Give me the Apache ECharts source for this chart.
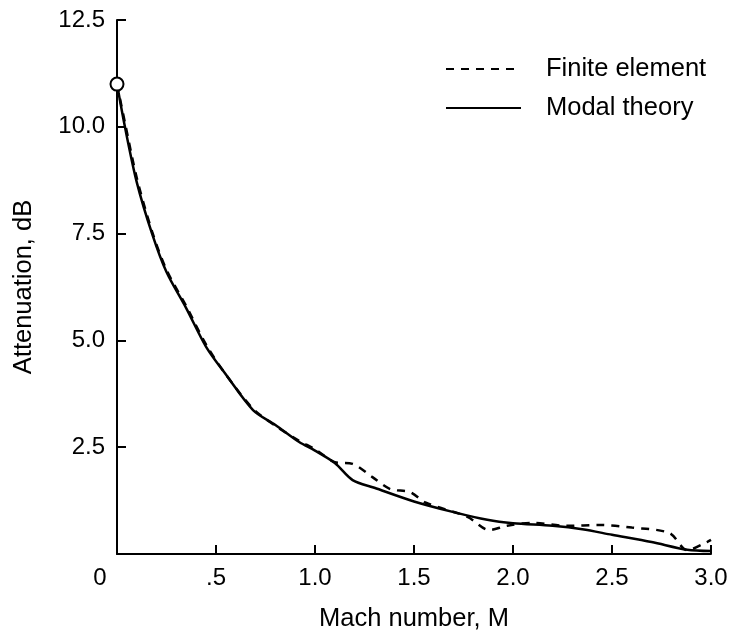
<!DOCTYPE html>
<html>
<head>
<meta charset="utf-8">
<script src="https://cdn.jsdelivr.net/npm/echarts@6/dist/echarts.min.js"></script>
<style>
html,body{margin:0;padding:0;background:#fff;}
#c{width:735px;height:640px;}
</style>
</head>
<body>
<div id="c"></div>
<script>
// Mach number M and attenuation (dB)
const modalM = [0, 0.04, 0.1, 0.177, 0.25, 0.35, 0.45, 0.55, 0.687, 0.8, 0.92, 1.0, 1.1, 1.19, 1.3, 1.5, 1.7, 1.87, 2.0, 2.2, 2.35, 2.5, 2.7, 2.88, 3.0];
const modalDB = [11.0, 10.0, 8.7, 7.5, 6.6, 5.75, 4.85, 4.2, 3.37, 3.02, 2.62, 2.42, 2.13, 1.73, 1.55, 1.23, 0.98, 0.80, 0.72, 0.66, 0.58, 0.45, 0.28, 0.10, 0.07];

const feM = [0, 0.04, 0.1, 0.177, 0.25, 0.35, 0.45, 0.55, 0.687, 0.8, 0.92, 1.0, 1.1, 1.19, 1.29, 1.38, 1.48, 1.56, 1.77, 1.88, 1.97, 2.1, 2.27, 2.44, 2.6, 2.79, 2.88, 2.98, 3.0];
const feDB = [11.0, 10.1, 8.8, 7.55, 6.65, 5.8, 4.9, 4.2, 3.4, 3.0, 2.65, 2.45, 2.15, 2.11, 1.8, 1.52, 1.45, 1.2, 0.87, 0.56, 0.66, 0.73, 0.66, 0.68, 0.62, 0.49, 0.09, 0.28, 0.33];

const startM = [0];
const startDB = [11.0];

const xTickValues = [0, 0.5, 1.0, 1.5, 2.0, 2.5, 3.0];
const xTickLabels = ['0', '.5', '1.0', '1.5', '2.0', '2.5', '3.0'];
const yTickValues = [0, 2.5, 5.0, 7.5, 10.0, 12.5];
const yTickLabels = ['', '2.5', '5.0', '7.5', '10.0', '12.5'];

const seriesNames = ['Finite element', 'Modal theory'];
const xAxisName = 'Mach number, M';
const yAxisName = 'Attenuation, dB';

const FONT = "'Liberation Sans', Arial, Helvetica, sans-serif";
const FS = 24;
const FSN = 25.5;

function pairs(a, b) { return a.map((v, i) => [v, b[i]]); }
function lookup(vals, labels, v) {
  for (let i = 0; i < vals.length; i++) if (Math.abs(vals[i] - v) < 1e-6) return labels[i];
  return '';
}

const chart = echarts.init(document.getElementById('c'), null, { renderer: 'canvas' });
chart.setOption({
  animation: false,
  backgroundColor: '#ffffff',
  grid: { left: 117, right: 24, top: 20, bottom: 86, containLabel: false },
  legend: {
    orient: 'vertical',
    left: 445,
    top: 56,
    padding: 0,
    itemWidth: 75,
    itemHeight: 26,
    itemGap: 13,
    data: seriesNames,
    itemStyle: { opacity: 0 },
    textStyle: { fontFamily: FONT, fontSize: FSN, color: '#000', padding: [0, 0, 0, 20] }
  },
  xAxis: {
    type: 'value',
    min: 0, max: 3, interval: 0.5,
    name: xAxisName,
    nameLocation: 'middle',
    nameGap: 52,
    nameTextStyle: { fontFamily: FONT, fontSize: FSN, color: '#000' },
    axisLine: { show: true, lineStyle: { color: '#000', width: 2 } },
    axisTick: { show: true, inside: true, length: 9, lineStyle: { color: '#000', width: 2 } },
    splitLine: { show: false },
    axisLabel: {
      margin: 12,
      fontFamily: FONT, fontSize: FS, color: '#000',
      formatter: function (v) {
        const t = lookup(xTickValues, xTickLabels, v);
        return v === 0 ? '{z|' + t + '}' : t;
      },
      rich: { z: { fontFamily: FONT, fontSize: FS, color: '#000', padding: [0, 34, 0, 0] } }
    }
  },
  yAxis: {
    type: 'value',
    min: 0, max: 12.5, interval: 2.5,
    name: yAxisName,
    nameLocation: 'middle',
    nameGap: 80,
    nameTextStyle: { fontFamily: FONT, fontSize: FSN, color: '#000' },
    axisLine: { show: true, lineStyle: { color: '#000', width: 2 } },
    axisTick: { show: true, inside: true, length: 9, lineStyle: { color: '#000', width: 2 } },
    splitLine: { show: false },
    axisLabel: {
      margin: 12,
      fontFamily: FONT, fontSize: FS, color: '#000',
      formatter: function (v) { return lookup(yTickValues, yTickLabels, v); }
    }
  },
  series: [
    {
      name: seriesNames[0],
      type: 'line',
      data: pairs(feM, feDB),
      symbol: 'none',
      smooth: 0.3,
      lineStyle: { color: '#000', width: 2.5, type: [8, 7] },
      itemStyle: { color: '#000' },
      z: 2
    },
    {
      name: seriesNames[1],
      type: 'line',
      data: pairs(modalM, modalDB),
      symbol: 'none',
      smooth: 0.3,
      lineStyle: { color: '#000', width: 2.5, type: 'solid' },
      itemStyle: { color: '#000' },
      z: 3
    },
    {
      name: 'start',
      type: 'scatter',
      data: pairs(startM, startDB),
      symbol: 'circle',
      symbolSize: 13,
      itemStyle: { color: '#fff', borderColor: '#000', borderWidth: 2, opacity: 1 },
      z: 5
    }
  ]
});
</script>
</body>
</html>
